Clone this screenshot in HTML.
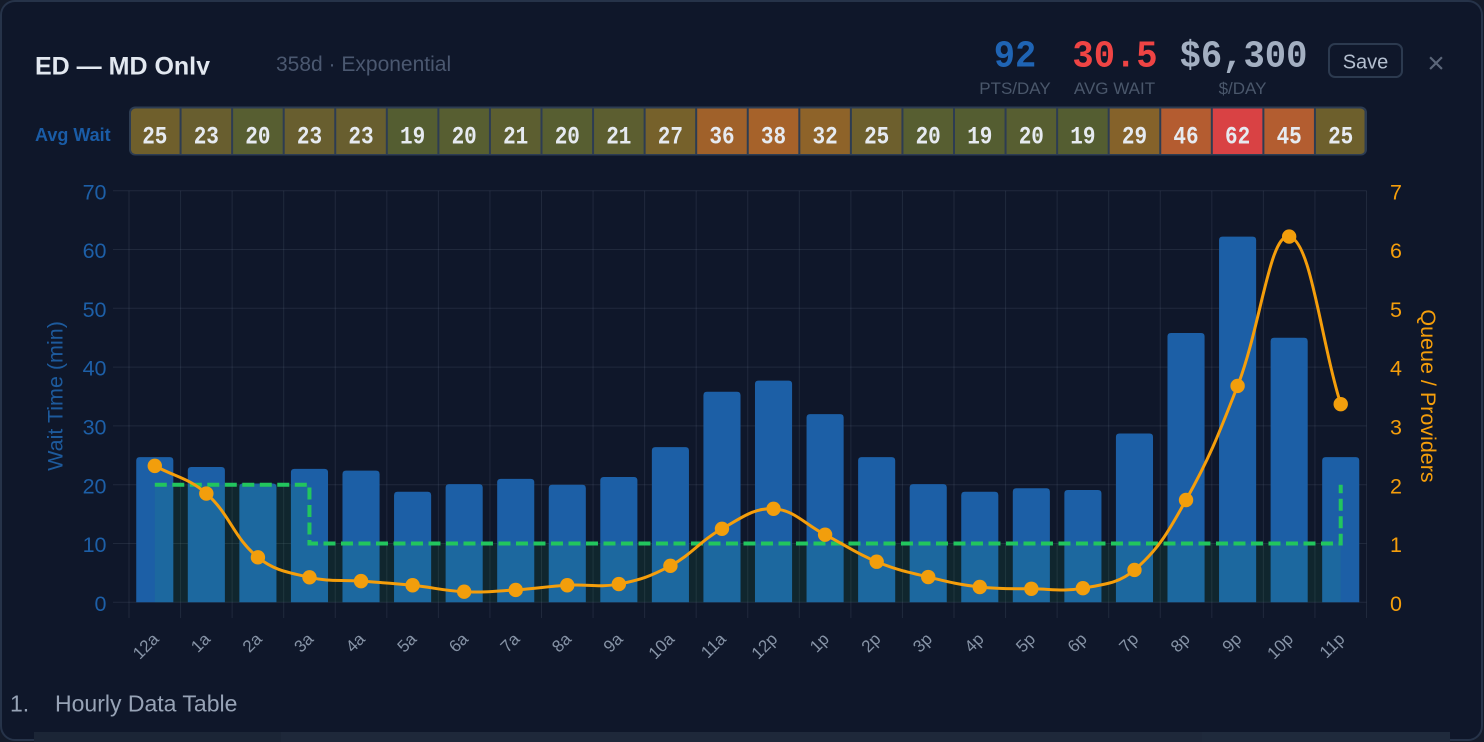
<!DOCTYPE html>
<html><head><meta charset="utf-8">
<style>
html,body{margin:0;padding:0;background:#0f172a;overflow:hidden;}
svg{display:block}
</style></head><body>
<svg id="s" width="1484" height="742" viewBox="0 0 1484 742" xmlns="http://www.w3.org/2000/svg">
<defs>
<clipPath id="tc"><rect x="0" y="0" width="600" height="74.8"/></clipPath>
<clipPath id="sc"><rect x="131" y="108.5" width="1234" height="45.5" rx="4.5"/></clipPath>
</defs>
<rect width="1484" height="742" fill="#141b2a"/>
<rect x="1" y="1" width="1481" height="739" rx="14" fill="#0f172a" stroke="#263349" stroke-width="2"/>

<!-- header -->
<text x="35" y="74.3" clip-path="url(#tc)" font-family="Liberation Sans, sans-serif" font-weight="bold" font-size="25" fill="#e2e8f0">ED — MD Only</text>
<text x="276" y="71" font-family="Liberation Sans, sans-serif" font-size="21" fill="#4b5870">358d · Exponential</text>

<g transform="translate(0,66.7) scale(1,1.07)" font-family="Liberation Mono, monospace" font-weight="bold" font-size="35.5" text-anchor="middle">
<text x="1015" y="0" fill="#1f64b4">92</text>
<text x="1115" y="0" fill="#ef4444">30.5</text>
<text x="1243.5" y="0" fill="#a3afc1">$6,300</text>
</g>
<g font-family="Liberation Sans, sans-serif" font-size="17" fill="#4a576b" text-anchor="middle">
<text x="1015" y="94">PTS/DAY</text>
<text x="1114.5" y="94">AVG WAIT</text>
<text x="1242.5" y="94">$/DAY</text>
</g>
<rect x="1329" y="44" width="73" height="33" rx="6" fill="none" stroke="#2c3a4f" stroke-width="2"/>
<text x="1365.5" y="68.5" font-family="Liberation Sans, sans-serif" font-size="20" fill="#b4bfcf" text-anchor="middle">Save</text>
<text x="1436" y="73" font-family="Liberation Sans, sans-serif" font-size="30" fill="#5b6679" text-anchor="middle">×</text>

<!-- avg wait strip -->
<text x="35" y="141" font-family="Liberation Sans, sans-serif" font-weight="bold" font-size="18" fill="#1a5ca6">Avg Wait</text>
<rect x="129" y="106.5" width="1238" height="49" rx="6" fill="#2d3c52"/>
<g id="cells" clip-path="url(#sc)"></g>
<g transform="translate(0,143.3) scale(1,1.18)" font-family="Liberation Mono, monospace" font-weight="bold" font-size="21" fill="#e6eaf0" text-anchor="middle">
<text x="154.8" y="0">25</text><text x="206.3" y="0">23</text><text x="257.9" y="0">20</text><text x="309.5" y="0">23</text>
<text x="361.0" y="0">23</text><text x="412.6" y="0">19</text><text x="464.2" y="0">20</text><text x="515.7" y="0">21</text>
<text x="567.3" y="0">20</text><text x="618.8" y="0">21</text><text x="670.4" y="0">27</text><text x="722.0" y="0">36</text>
<text x="773.5" y="0">38</text><text x="825.1" y="0">32</text><text x="876.7" y="0">25</text><text x="928.2" y="0">20</text>
<text x="979.8" y="0">19</text><text x="1031.3" y="0">20</text><text x="1082.9" y="0">19</text><text x="1134.5" y="0">29</text>
<text x="1186.0" y="0">46</text><text x="1237.6" y="0">62</text><text x="1289.2" y="0">45</text><text x="1340.7" y="0">25</text>
</g>

<!-- chart -->
<g id="chart"></g>

<!-- axes labels -->
<g font-family="Liberation Sans, sans-serif" font-size="21.5" fill="#1d5fa7" text-anchor="end">
<text x="106.5" y="610.9">0</text><text x="106.5" y="552.1">10</text><text x="106.5" y="493.3">20</text>
<text x="106.5" y="434.5">30</text><text x="106.5" y="375.7">40</text><text x="106.5" y="316.9">50</text>
<text x="106.5" y="258.1">60</text><text x="106.5" y="199.3">70</text>
</g>
<g font-family="Liberation Sans, sans-serif" font-size="21.5" fill="#f59e0b" text-anchor="start">
<text x="1390" y="610.9">0</text><text x="1390" y="552.1">1</text><text x="1390" y="493.3">2</text>
<text x="1390" y="434.5">3</text><text x="1390" y="375.7">4</text><text x="1390" y="316.9">5</text>
<text x="1390" y="258.1">6</text><text x="1390" y="199.3">7</text>
</g>
<text transform="translate(62.7,396) rotate(-90)" text-anchor="middle" font-family="Liberation Sans, sans-serif" font-size="21.5" fill="#1d5a9c">Wait Time (min)</text>
<text transform="translate(1421,396) rotate(90)" text-anchor="middle" font-family="Liberation Sans, sans-serif" font-size="21.5" fill="#f59e0b">Queue / Providers</text>

<g font-family="Liberation Sans, sans-serif" font-size="17" fill="#8693a6" text-anchor="end">
<text transform="translate(159.8,640) rotate(-45)">12a</text>
<text transform="translate(211.3,640) rotate(-45)">1a</text>
<text transform="translate(262.9,640) rotate(-45)">2a</text>
<text transform="translate(314.5,640) rotate(-45)">3a</text>
<text transform="translate(366.0,640) rotate(-45)">4a</text>
<text transform="translate(417.6,640) rotate(-45)">5a</text>
<text transform="translate(469.2,640) rotate(-45)">6a</text>
<text transform="translate(520.7,640) rotate(-45)">7a</text>
<text transform="translate(572.3,640) rotate(-45)">8a</text>
<text transform="translate(623.8,640) rotate(-45)">9a</text>
<text transform="translate(675.4,640) rotate(-45)">10a</text>
<text transform="translate(727.0,640) rotate(-45)">11a</text>
<text transform="translate(778.5,640) rotate(-45)">12p</text>
<text transform="translate(830.1,640) rotate(-45)">1p</text>
<text transform="translate(881.7,640) rotate(-45)">2p</text>
<text transform="translate(933.2,640) rotate(-45)">3p</text>
<text transform="translate(984.8,640) rotate(-45)">4p</text>
<text transform="translate(1036.3,640) rotate(-45)">5p</text>
<text transform="translate(1087.9,640) rotate(-45)">6p</text>
<text transform="translate(1139.5,640) rotate(-45)">7p</text>
<text transform="translate(1191.0,640) rotate(-45)">8p</text>
<text transform="translate(1242.6,640) rotate(-45)">9p</text>
<text transform="translate(1294.2,640) rotate(-45)">10p</text>
<text transform="translate(1345.7,640) rotate(-45)">11p</text>
</g>

<!-- footer -->
<text x="10" y="711.7" font-family="Liberation Sans, sans-serif" font-size="23" fill="#97a3b6">1.</text>
<text x="55" y="711.7" font-family="Liberation Sans, sans-serif" font-size="23" fill="#97a3b6">Hourly Data Table</text>
<rect x="34" y="732" width="247" height="10" fill="#1b2536"/>
<rect x="281" y="732" width="921" height="10" fill="#1e283a"/>
<rect x="1202" y="732" width="248" height="10" fill="#1f2a3c"/>
</svg>

<script>
(function(){
const NS='http://www.w3.org/2000/svg';
function el(tag,attrs,parent){const e=document.createElementNS(NS,tag);for(const k in attrs)e.setAttribute(k,attrs[k]);parent.appendChild(e);return e;}
const g=document.getElementById('chart');
const cells=document.getElementById('cells');
const L=129,W=51.5625,B=602.3,T=190.7,U=58.8,UL=5.88;
const cx=i=>L+(i+0.5)*W;

// strip cells
const cc=['#6f5f2c','#685e2f','#575e31','#685e2f','#685e2f','#545d31','#575e31','#5c5e30','#575e31','#5c5e30','#76612b','#a0612a','#a6622a','#8e6329','#6d5f2d','#575e31','#545d31','#575e31','#545d31','#85622a','#b45c30','#d94244','#b35d30','#6d5f2c'];
for(let i=0;i<24;i++){
  const x0=L+i*W+(i===0?2:1), x1=L+(i+1)*W-(i===23?2:1);
  el('rect',{x:x0,y:108.5,width:x1-x0,height:45.5,fill:cc[i]},cells);
}

// grid
const gc='rgba(148,163,184,0.13)';
for(let i=0;i<=24;i++){const x=L+i*W;el('line',{x1:x,x2:x,y1:T,y2:618,stroke:gc,'stroke-width':1},g);}
for(let k=0;k<=7;k++){const y=B-k*U;el('line',{x1:113,x2:L+24*W,y1:y,y2:y,stroke:gc,'stroke-width':1},g);}

// bars
const bars=[24.7,23.0,20.2,22.7,22.4,18.8,20.1,21.0,20.0,21.3,26.4,35.8,37.7,32.0,24.7,20.1,18.8,19.4,19.1,28.7,45.8,62.2,45.0,24.7];
const bw=37.1,r=3.5;
bars.forEach((v,i)=>{
  const x=cx(i)-bw/2, top=B-v*UL;
  el('path',{d:`M${x},${B} V${top+r} Q${x},${top} ${x+r},${top} H${x+bw-r} Q${x+bw},${top} ${x+bw},${top+r} V${B} Z`,fill:'#1c5fa6'},g);
});

// providers stepped fill + dashed line
const prov=[2,2,2,1,1,1,1,1,1,1,1,1,1,1,1,1,1,1,1,1,1,1,1,2];
let d=`M${cx(0)},${B-prov[0]*U}`;
for(let i=1;i<24;i++){d+=` H${cx(i)} V${B-prov[i]*U}`;}
el('path',{d:d+` V${B} H${cx(0)} Z`,fill:'rgba(34,197,94,0.09)',stroke:'none'},g);
el('path',{d:d,fill:'none',stroke:'#22c55e','stroke-width':4,'stroke-dasharray':'12 5.5'},g);

// queue line
const q=[2.32,1.85,0.765,0.425,0.36,0.29,0.18,0.21,0.29,0.31,0.62,1.25,1.59,1.15,0.69,0.43,0.26,0.23,0.24,0.55,1.74,3.68,6.22,3.37];
const P=q.map((v,i)=>[cx(i),B-v*U]);
const t=0.4, n=P.length, cp=[];
for(let i=0;i<n;i++){
  const p0=P[i-1]||P[i], p1=P[i], p2=P[i+1]||P[i];
  const d01=Math.hypot(p1[0]-p0[0],p1[1]-p0[1]), d12=Math.hypot(p2[0]-p1[0],p2[1]-p1[1]);
  let s01=d01/(d01+d12), s12=d12/(d01+d12);
  if(!isFinite(s01))s01=0; if(!isFinite(s12))s12=0;
  const fa=t*s01, fb=t*s12;
  cp.push({prev:[p1[0]-fa*(p2[0]-p0[0]),p1[1]-fa*(p2[1]-p0[1])],next:[p1[0]+fb*(p2[0]-p0[0]),p1[1]+fb*(p2[1]-p0[1])]});
}
let ld=`M${P[0][0]},${P[0][1]}`;
for(let i=1;i<n;i++){ld+=` C${cp[i-1].next[0]},${cp[i-1].next[1]} ${cp[i].prev[0]},${cp[i].prev[1]} ${P[i][0]},${P[i][1]}`;}
el('path',{d:ld,fill:'none',stroke:'#f59e0b','stroke-width':3,'stroke-linejoin':'round'},g);
P.forEach(p=>el('circle',{cx:p[0],cy:p[1],r:7.2,fill:'#f29e0c'},g));
})();
</script>
</body></html>
